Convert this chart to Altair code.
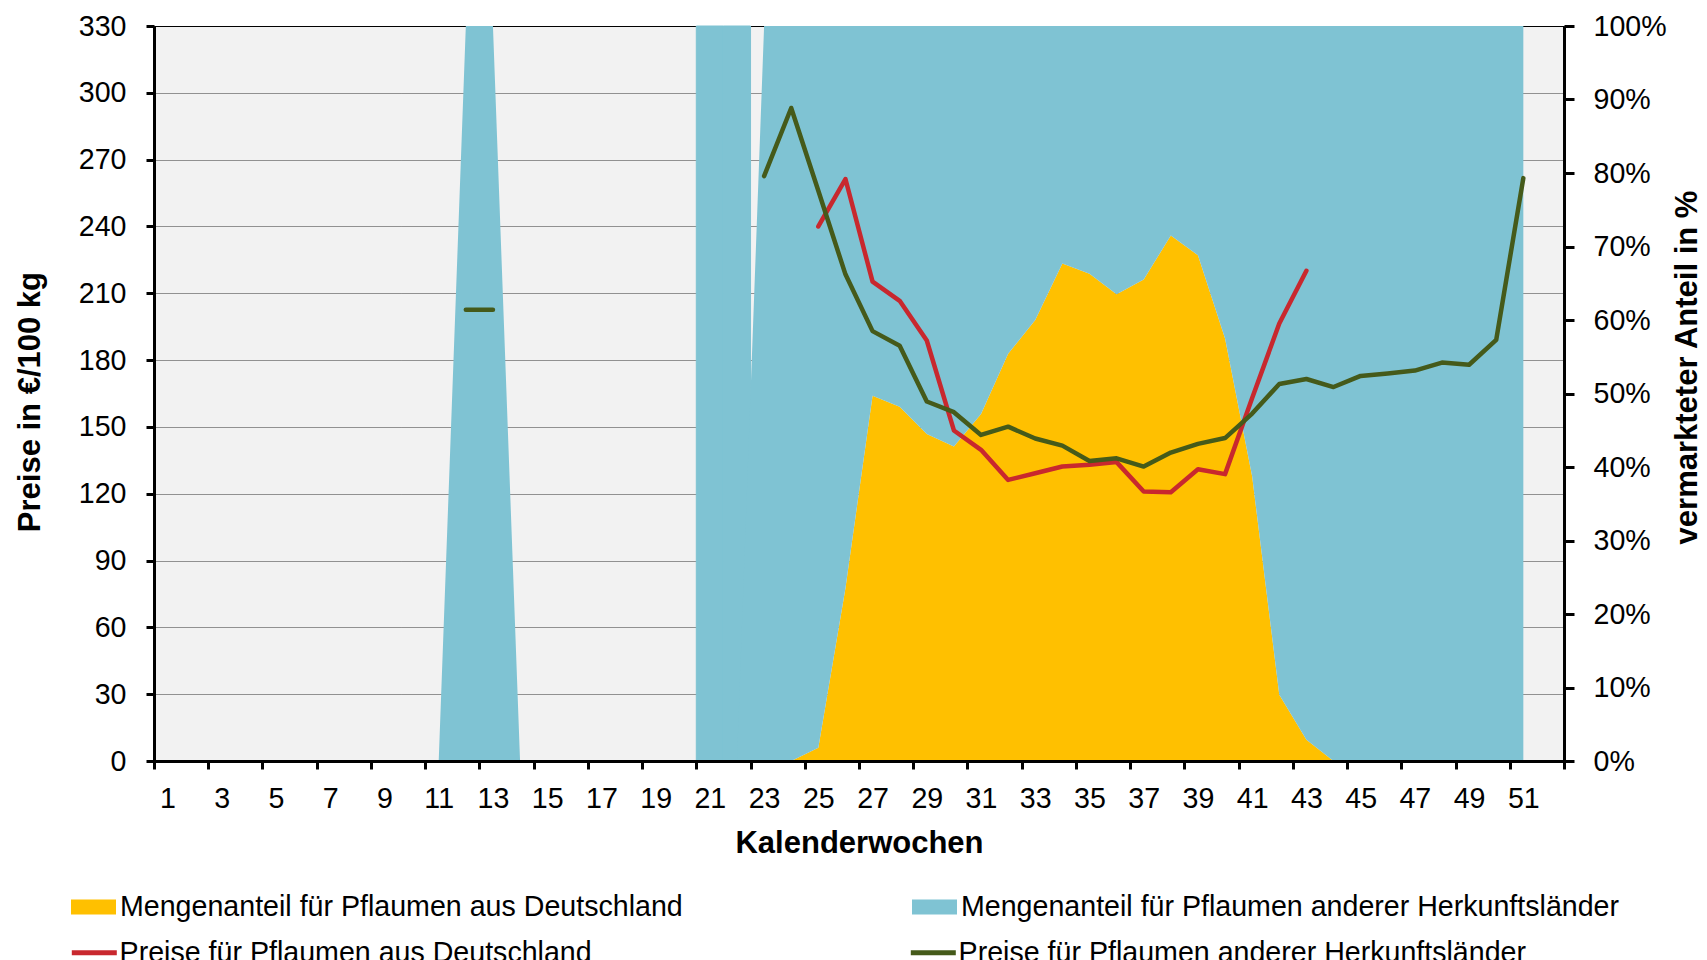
import altair as alt
import pandas as pd

# ---------------- data ----------------
S_DE = "Mengenanteil für Pflaumen aus Deutschland"
S_OT = "Mengenanteil für Pflaumen anderer Herkunftsländer"
P_DE = "Preise für Pflaumen aus Deutschland"
P_OT = "Preise für Pflaumen anderer Herkunftsländer"

# share weeks 11..51 (%)
share_weeks = list(range(11, 52))
share_de = [0, 0, 0, 0, 0, 0, 0, 0, 0, 0, 0, 0, 0, 0,
            1.8, 23.5, 49.7, 48.2, 44.5, 42.8, 47.2, 55.4, 60.0, 67.7, 66.3,
            63.5, 65.5, 71.5, 68.8, 57.5, 38.7, 9.0, 2.9, 0, 0, 0, 0, 0, 0, 0, 0]
share_other = [0, 100, 100, 0, 0, 0, 0, 0, 0, 0, 0, 0,
               100, 100, 98.2, 76.5, 50.3, 51.8, 55.5, 57.2, 52.8, 44.6, 40.0,
               32.3, 33.7, 36.5, 34.5, 28.5, 31.2, 42.5, 61.3, 91.0, 97.1,
               100, 100, 100, 100, 100, 100, 100, 100]

# weeks fully covered by other origins (drawn as full-width blocks)
block_weeks = [21, 22]
block_share = [100, 100]

# prices (EUR / 100 kg)
price_de_weeks = list(range(25, 44))
price_de = [240.0, 261.3, 215.2, 206.6, 188.8, 148.4, 139.7, 126.2, 129.2, 132.2,
            133.0, 134.2, 121.0, 120.7, 131.0, 128.8, 163.0, 196.4, 220.1]

price_other_weeks = [12, 13] + list(range(23, 52))
price_other = [202.6, 202.6,
               262.6, 293.2, 256.0, 218.5, 193.0, 186.4, 161.4, 156.6, 146.4,
               150.1, 144.8, 141.6, 134.7, 135.9, 132.2, 138.5, 142.4, 145.0,
               156.0, 169.3, 171.5, 167.9, 172.9, 174.0, 175.3, 178.9, 177.9,
               189.1, 261.7]
price_other_segment = ["a", "a"] + ["b"] * 29

x_tick_values = [0.5 + 2 * i for i in range(27)]
y_price_values = list(range(0, 331, 30))
y_share_values = list(range(0, 101, 10))

ORANGE = "#FFC000"
BLUE = "#7FC3D3"
RED = "#C8282E"
GREEN = "#455A1A"

# ---------------- frames ----------------
area_df = pd.DataFrame({
    "week": share_weeks + share_weeks,
    "share": share_de + share_other,
    "series": [S_DE] * len(share_weeks) + [S_OT] * len(share_weeks),
    "stackorder": [0] * len(share_weeks) + [1] * len(share_weeks),
})
block_df = pd.DataFrame({"week": block_weeks, "share": block_share})
line_df = pd.DataFrame({
    "week": price_de_weeks + price_other_weeks,
    "price": price_de + price_other,
    "series": [P_DE] * len(price_de_weeks) + [P_OT] * len(price_other_weeks),
    "segment": ["de"] * len(price_de_weeks) + price_other_segment,
})

W, H = 1410, 735
band = W / 52.0

xscale = alt.Scale(domain=[0.5, 52.5], nice=False, zero=False, padding=0)
xaxis = alt.Axis(
    values=x_tick_values,
    labelExpr="datum.value < 52 ? format(datum.value + 0.5, 'd') : ''",
    labelOffset=band / 2, labelFlush=False, labelOverlap=False,
    tickSize=8, labelPadding=15.6, grid=False, zindex=1,
    title="Kalenderwochen", titleY=91, titleBaseline="alphabetic",
)

share_scale = alt.Scale(domain=[0, 100], nice=False, padding=0)
share_axis = alt.Axis(
    orient="right", values=y_share_values,
    labelExpr="datum.value + '%'", grid=False,
    tickSize=10, labelPadding=19, zindex=1,
    title="vermarkteter Anteil in %", titleAngle=270,
    titleX=132, titleY=341, titleBaseline="alphabetic", titleAlign="center",
)

price_scale = alt.Scale(domain=[0, 330], nice=False, padding=0)
price_axis = alt.Axis(
    orient="left", values=y_price_values, grid=True,
    gridColor="#000000", gridWidth=1, gridDash=[1, 1], gridOpacity=0.8,
    tickSize=8, labelPadding=20, zindex=0,
    title="Preise in €/100 kg", titleAngle=270,
    titleX=-115, titleY=375.6, titleBaseline="alphabetic", titleAlign="center",
)

rect_symbol = "M-1,-0.333L1,-0.333L1,0.333L-1,0.333Z"

fill_legend = alt.Legend(
    orient="none", legendX=-83, legendY=858, direction="horizontal",
    title=None, symbolType=rect_symbol, symbolSize=2025,
    symbolStrokeWidth=0, symbolOpacity=1, labelOffset=4, columnPadding=229,
)
stroke_legend = alt.Legend(
    orient="none", legendX=-84.7, legendY=901.5, direction="horizontal",
    title=None, symbolType="stroke", symbolSize=2025,
    symbolStrokeWidth=5, labelOffset=0.3, columnPadding=308,
)

blocks = alt.Chart(block_df).transform_calculate(
    w0="datum.week - 0.5", w1="datum.week + 0.5", zero="0"
).mark_rect(color=BLUE, stroke=BLUE, strokeWidth=1, opacity=1).encode(
    x=alt.X("w0:Q", scale=xscale, axis=xaxis),
    x2="w1:Q",
    y=alt.Y("share:Q", scale=share_scale, axis=share_axis),
    y2="zero:Q",
)

areas = alt.Chart(area_df).mark_area(opacity=1, interpolate="linear").encode(
    x=alt.X("week:Q", scale=xscale, axis=xaxis),
    y=alt.Y("share:Q", stack="zero", scale=share_scale, axis=share_axis),
    fill=alt.Fill("series:N", scale=alt.Scale(domain=[S_DE, S_OT], range=[ORANGE, BLUE]),
                  legend=fill_legend),
    order=alt.Order("stackorder:Q", sort="ascending"),
)

lines = alt.Chart(line_df).mark_line(strokeWidth=4.5, strokeCap="round", strokeJoin="round").encode(
    x=alt.X("week:Q", scale=xscale, axis=xaxis),
    y=alt.Y("price:Q", scale=price_scale, axis=price_axis),
    stroke=alt.Stroke("series:N", scale=alt.Scale(domain=[P_DE, P_OT], range=[RED, GREEN]),
                      legend=stroke_legend),
    detail="segment:N",
)

chart = alt.layer(alt.layer(blocks, areas), lines).resolve_scale(
    y="independent"
).properties(
    width=W, height=H,
    autosize=alt.AutoSizeParams(type="none"),
    padding={"left": 146, "top": 18, "right": 135, "bottom": 207},
).configure(
    font="Liberation Sans",
).configure_view(
    fill="#F2F2F2", stroke="#000000", strokeWidth=1,
).configure_axis(
    labelFont="Liberation Sans", labelFontSize=28.6, labelColor="#000000",
    titleFont="Liberation Sans", titleFontSize=31, titleFontWeight="bold", titleColor="#000000",
    domainColor="#000000", domainWidth=3, tickColor="#000000", tickWidth=3,
).configure_legend(
    labelFont="Liberation Sans", labelFontSize=28.6, labelColor="#000000",
    labelLimit=2000, padding=0,
)

chart.save("out.html", embed_options={"renderer": "svg", "actions": False})
